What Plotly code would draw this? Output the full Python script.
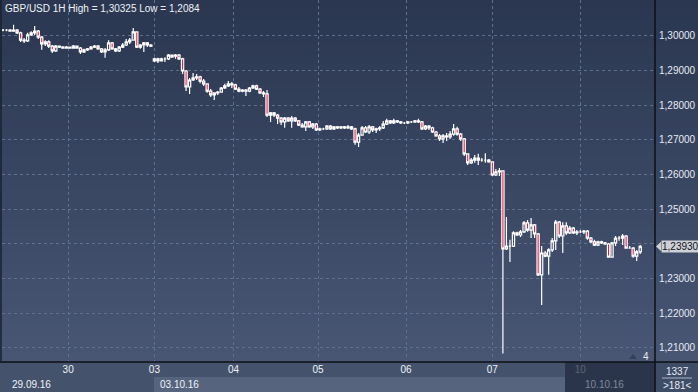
import plotly.graph_objects as go

# ---------------- data ----------------
title_text = "GBP/USD 1H High = 1,30325 Low = 1,2084"

opens = [
    1.3017, 1.3017, 1.3017, 1.3014, 1.3017, 1.3009, 1.2988, 1.2986, 1.3003, 1.3009,
    1.3014, 1.2997, 1.2977, 1.2983, 1.2971, 1.2957, 1.2971, 1.2968, 1.2965, 1.2968,
    1.2965, 1.2971, 1.2965, 1.2954, 1.2960, 1.2963, 1.2968, 1.2971, 1.2963, 1.2954,
    1.2960, 1.2980, 1.2963, 1.2957, 1.2968, 1.2974, 1.2983, 1.2988, 1.3012, 1.2968,
    1.2974, 1.2980, 1.2974, 1.2928, 1.2934, 1.2928, 1.2934, 1.2934, 1.2945, 1.2942,
    1.2945, 1.2934, 1.2899, 1.2853, 1.2873, 1.2879, 1.2882, 1.2870, 1.2862, 1.2841,
    1.2830, 1.2836, 1.2838, 1.2850, 1.2856, 1.2862, 1.2859, 1.2847, 1.2841, 1.2844,
    1.2841, 1.2850, 1.2856, 1.2847, 1.2836, 1.2833, 1.2772, 1.2778, 1.2772, 1.2763,
    1.2752, 1.2763, 1.2755, 1.2763, 1.2755, 1.2743, 1.2738, 1.2752, 1.2738, 1.2746,
    1.2729, 1.2732, 1.2732, 1.2740, 1.2732, 1.2738, 1.2735, 1.2738, 1.2735, 1.2738,
    1.2732, 1.2694, 1.2714, 1.2735, 1.2723, 1.2738, 1.2729, 1.2732, 1.2735, 1.2746,
    1.2755, 1.2749, 1.2755, 1.2752, 1.2749, 1.2749, 1.2752, 1.2752, 1.2755, 1.2752,
    1.2732, 1.2740, 1.2735, 1.2723, 1.2712, 1.2703, 1.2712, 1.2709, 1.2717, 1.2732,
    1.2717, 1.2703, 1.2660, 1.2634, 1.2642, 1.2648, 1.2642, 1.2642, 1.2642, 1.2637,
    1.2599, 1.2608, 1.2611, 1.2386, 1.2394, 1.2394, 1.2432, 1.2426, 1.2435, 1.2461,
    1.2440, 1.2455, 1.2429, 1.2311, 1.2374, 1.2365, 1.2383, 1.2409, 1.2463, 1.2423,
    1.2452, 1.2432, 1.2446, 1.2432, 1.2435, 1.2435, 1.2437, 1.2417, 1.2406, 1.2397,
    1.2406, 1.2403, 1.2400, 1.2362, 1.2403, 1.2417, 1.2417, 1.2423, 1.2388, 1.2388,
    1.2365, 1.2377,
]

highs = [
    1.3020, 1.3020, 1.3020, 1.30325, 1.3020, 1.3012, 1.2994, 1.3009, 1.3014, 1.3029,
    1.3017, 1.3000, 1.2988, 1.2988, 1.2974, 1.2974, 1.2971, 1.2971, 1.2971, 1.2968,
    1.2974, 1.2971, 1.2968, 1.2963, 1.2965, 1.2971, 1.2974, 1.2974, 1.2965, 1.2965,
    1.2988, 1.2983, 1.2965, 1.2971, 1.2980, 1.2991, 1.2994, 1.3023, 1.3014, 1.2977,
    1.2983, 1.2983, 1.2977, 1.2937, 1.2937, 1.2937, 1.2939, 1.2948, 1.2945, 1.2948,
    1.2948, 1.2937, 1.2902, 1.2879, 1.2893, 1.2890, 1.2885, 1.2876, 1.2864, 1.2847,
    1.2838, 1.2841, 1.2853, 1.2862, 1.2870, 1.2867, 1.2862, 1.2853, 1.2847, 1.2847,
    1.2853, 1.2859, 1.2859, 1.2850, 1.2841, 1.2844, 1.2781, 1.2781, 1.2775, 1.2766,
    1.2766, 1.2766, 1.2769, 1.2766, 1.2758, 1.2749, 1.2755, 1.2755, 1.2749, 1.2749,
    1.2735, 1.2735, 1.2743, 1.2743, 1.2740, 1.2740, 1.2740, 1.2740, 1.2743, 1.2740,
    1.2735, 1.2720, 1.2740, 1.2740, 1.2743, 1.2740, 1.2735, 1.2740, 1.2755, 1.2761,
    1.2758, 1.2761, 1.2758, 1.2755, 1.2752, 1.2755, 1.2755, 1.2758, 1.2761, 1.2755,
    1.2743, 1.2743, 1.2738, 1.2726, 1.2717, 1.2717, 1.2720, 1.2726, 1.2746, 1.2738,
    1.2720, 1.2706, 1.2662, 1.2648, 1.2657, 1.2660, 1.2648, 1.2662, 1.2645, 1.2639,
    1.2616, 1.2619, 1.2613, 1.2478, 1.2412, 1.2437, 1.2435, 1.2440, 1.2466, 1.2469,
    1.2475, 1.2458, 1.2432, 1.2394, 1.2380, 1.2388, 1.2417, 1.2469, 1.2466, 1.2463,
    1.2463, 1.2452, 1.2449, 1.2440, 1.2440, 1.2440, 1.2440, 1.2420, 1.2412, 1.2409,
    1.2409, 1.2406, 1.2403, 1.2406, 1.2423, 1.2423, 1.2429, 1.2426, 1.2394, 1.2391,
    1.2383, 1.2397,
]

lows = [
    1.3014, 1.3014, 1.3012, 1.3012, 1.3006, 1.2983, 1.2980, 1.2983, 1.3000, 1.3003,
    1.2991, 1.2960, 1.2971, 1.2965, 1.2951, 1.2954, 1.2965, 1.2963, 1.2963, 1.2963,
    1.2965, 1.2963, 1.2948, 1.2951, 1.2957, 1.2960, 1.2965, 1.2960, 1.2951, 1.2937,
    1.2957, 1.2960, 1.2954, 1.2954, 1.2965, 1.2971, 1.2977, 1.2986, 1.2965, 1.2963,
    1.2954, 1.2968, 1.2968, 1.2925, 1.2922, 1.2928, 1.2925, 1.2931, 1.2937, 1.2934,
    1.2931, 1.2890, 1.2841, 1.2833, 1.2870, 1.2873, 1.2864, 1.2856, 1.2836, 1.2824,
    1.2815, 1.2830, 1.2836, 1.2847, 1.2853, 1.2850, 1.2844, 1.2838, 1.2838, 1.2827,
    1.2838, 1.2847, 1.2844, 1.2833, 1.2824, 1.2766, 1.2752, 1.2766, 1.2746, 1.2743,
    1.2735, 1.2752, 1.2735, 1.2752, 1.2740, 1.2735, 1.2726, 1.2735, 1.2732, 1.2726,
    1.2726, 1.2729, 1.2729, 1.2729, 1.2729, 1.2732, 1.2732, 1.2732, 1.2732, 1.2729,
    1.2686, 1.2680, 1.2712, 1.2720, 1.2717, 1.2723, 1.2720, 1.2726, 1.2732, 1.2743,
    1.2746, 1.2746, 1.2749, 1.2746, 1.2746, 1.2746, 1.2749, 1.2749, 1.2749, 1.2729,
    1.2729, 1.2729, 1.2720, 1.2709, 1.2697, 1.2691, 1.2697, 1.2703, 1.2712, 1.2712,
    1.2697, 1.2654, 1.2628, 1.2631, 1.2634, 1.2628, 1.2637, 1.2634, 1.2634, 1.2596,
    1.2596, 1.2596, 1.2084, 1.2383, 1.2348, 1.2391, 1.2423, 1.2420, 1.2432, 1.2435,
    1.2417, 1.2417, 1.2308, 1.2224, 1.2362, 1.2311, 1.2377, 1.2383, 1.2417, 1.2374,
    1.2426, 1.2429, 1.2429, 1.2426, 1.2432, 1.2429, 1.2412, 1.2403, 1.2394, 1.2394,
    1.2400, 1.2397, 1.2360, 1.2360, 1.2394, 1.2409, 1.2397, 1.2386, 1.2386, 1.2360,
    1.2351, 1.2371,
]

closes = [
    1.3017, 1.3017, 1.3014, 1.3017, 1.3009, 1.2988, 1.2986, 1.3003, 1.3009, 1.3014,
    1.2997, 1.2977, 1.2983, 1.2971, 1.2957, 1.2971, 1.2968, 1.2965, 1.2968, 1.2965,
    1.2971, 1.2965, 1.2954, 1.2960, 1.2963, 1.2968, 1.2971, 1.2963, 1.2954, 1.2960,
    1.2980, 1.2963, 1.2957, 1.2968, 1.2974, 1.2983, 1.2988, 1.3012, 1.2968, 1.2974,
    1.2980, 1.2974, 1.2971, 1.2934, 1.2928, 1.2934, 1.2934, 1.2945, 1.2939, 1.2945,
    1.2934, 1.2899, 1.2853, 1.2873, 1.2879, 1.2882, 1.2870, 1.2862, 1.2841, 1.2830,
    1.2836, 1.2838, 1.2850, 1.2856, 1.2862, 1.2859, 1.2847, 1.2841, 1.2844, 1.2841,
    1.2850, 1.2856, 1.2847, 1.2836, 1.2833, 1.2772, 1.2778, 1.2772, 1.2763, 1.2752,
    1.2763, 1.2755, 1.2763, 1.2755, 1.2743, 1.2738, 1.2752, 1.2738, 1.2746, 1.2729,
    1.2732, 1.2732, 1.2740, 1.2732, 1.2738, 1.2735, 1.2738, 1.2735, 1.2738, 1.2732,
    1.2694, 1.2714, 1.2735, 1.2723, 1.2738, 1.2729, 1.2732, 1.2735, 1.2746, 1.2755,
    1.2749, 1.2755, 1.2752, 1.2749, 1.2749, 1.2752, 1.2752, 1.2755, 1.2752, 1.2732,
    1.2740, 1.2735, 1.2723, 1.2712, 1.2703, 1.2712, 1.2709, 1.2717, 1.2732, 1.2717,
    1.2703, 1.2660, 1.2634, 1.2642, 1.2648, 1.2642, 1.2642, 1.2642, 1.2637, 1.2599,
    1.2608, 1.2611, 1.2386, 1.2394, 1.2394, 1.2432, 1.2426, 1.2435, 1.2461, 1.2440,
    1.2455, 1.2429, 1.2311, 1.2374, 1.2365, 1.2383, 1.2409, 1.2463, 1.2423, 1.2452,
    1.2432, 1.2446, 1.2432, 1.2435, 1.2435, 1.2437, 1.2417, 1.2406, 1.2397, 1.2406,
    1.2403, 1.2400, 1.2362, 1.2403, 1.2417, 1.2417, 1.2423, 1.2388, 1.2388, 1.2365,
    1.2377, 1.2393,
]

day_labels = ["30", "03", "04", "05", "06", "07", "10"]
day_starts = [18.5, 43, 65.5, 89.5, 114.5, 139, 164]
date_labels = ["29.09.16", "03.10.16", "10.10.16"]
price_ticks = [1.21, 1.22, 1.23, 1.24, 1.25, 1.26, 1.27, 1.28, 1.29, 1.30]
price_tick_text = ["1,21000", "1,22000", "1,23000", "", "1,25000", "1,26000",
                   "1,27000", "1,28000", "1,29000", "1,30000"]
last_price = 1.2393
last_price_text = "1,23930"
bar_total_text = "1337"
visible_bars_text = ">181<"
corner_count_text = "4"

# ---------------- layout geometry ----------------
W, H = 698, 392
ML, MR, MT, MB = 2, 43, 0, 30
PW, PH = W - ML - MR, H - MT - MB
Y0, Y1 = 1.20596, 1.31038


def px(xp):
    return (xp - ML) / PW


def py(yp):
    return (MT + PH - yp) / PH


FONT = "Liberation Sans"
idx = list(range(len(closes)))

fig = go.Figure()
fig.add_trace(go.Candlestick(
    x=idx, open=opens, high=highs, low=lows, close=closes,
    increasing=dict(line=dict(color="#ffffff", width=1.2), fillcolor="rgba(0,0,0,0)"),
    decreasing=dict(line=dict(color="#ffffff", width=1.2), fillcolor="#e8103c"),
    whiskerwidth=0, hoverinfo="skip", showlegend=False,
))

shapes = []
# vertical gradient background (plot + right panel)
top_c = (43, 55, 80)
bot_c = (72, 86, 116)
N = 40
for k in range(N):
    t = k / (N - 1)
    c = tuple(int(round(top_c[j] + (bot_c[j] - top_c[j]) * t)) for j in range(3))
    y0p = PH * k / N
    y1p = PH * (k + 1) / N + 0.6
    shapes.append(dict(type="rect", xref="paper", yref="paper",
                       x0=px(0), x1=px(W), y0=py(y1p), y1=py(y0p),
                       fillcolor="rgb(%d,%d,%d)" % c, line=dict(width=0), layer="below"))
# bottom date strip
shapes.append(dict(type="rect", xref="paper", yref="paper", x0=px(0), x1=px(W),
                   y0=py(H), y1=py(362), fillcolor="#44526c", line=dict(width=0), layer="below"))
shapes.append(dict(type="rect", xref="paper", yref="paper", x0=px(154), x1=px(565),
                   y0=py(H), y1=py(377), fillcolor="#56647e", line=dict(width=0), layer="below"))
shapes.append(dict(type="rect", xref="paper", yref="paper", x0=px(655), x1=px(W),
                   y0=py(H), y1=py(362), fillcolor="#3f4c66", line=dict(width=0), layer="below"))
# dark overlay on the last (current) day in date strip
shapes.append(dict(type="rect", xref="paper", yref="paper", x0=px(565), x1=px(655),
                   y0=py(H), y1=py(362), fillcolor="rgba(32,42,62,0.72)", line=dict(width=0), layer="above"))
# frame lines
shapes.append(dict(type="line", xref="paper", yref="paper", x0=px(0), x1=px(W),
                   y0=py(362), y1=py(362), line=dict(color="#0c0f16", width=1.5), layer="above"))
shapes.append(dict(type="line", xref="paper", yref="paper", x0=px(655), x1=px(655),
                   y0=py(0), y1=py(H), line=dict(color="#0c0f16", width=1.5), layer="above"))
shapes.append(dict(type="line", xref="paper", yref="paper", x0=px(1), x1=px(1),
                   y0=py(0), y1=py(362), line=dict(color="#1a2130", width=1.5), layer="above"))
shapes.append(dict(type="line", xref="paper", yref="paper", x0=px(662), x1=px(692),
                   y0=py(378), y1=py(378), line=dict(color="#a9b3c4", width=1), layer="above"))
# small marker next to the corner count
shapes.append(dict(type="path", xref="paper", yref="paper",
                   path="M %f,%f L %f,%f L %f,%f Z" % (px(629), py(359), px(637), py(359), px(633), py(354)),
                   fillcolor="#34415c", line=dict(width=0), layer="above"))
# last price marker arrow
dy = 4.6 / PH * (Y1 - Y0)
shapes.append(dict(type="path", xref="paper", yref="y",
                   path="M %f,%f L %f,%f L %f,%f Z" % (px(656), last_price, px(661), last_price + dy,
                                                      px(661), last_price - dy),
                   fillcolor="#cdd1d8", line=dict(width=0), layer="above"))

annotations = [
    dict(xref="paper", yref="paper", x=px(3), y=py(9), xanchor="left", yanchor="middle",
         text=title_text, showarrow=False, font=dict(family=FONT, size=10, color="#eef2f8")),
    dict(xref="paper", yref="paper", x=px(10), y=py(384), xanchor="left", yanchor="middle",
         text=date_labels[0], showarrow=False, font=dict(family=FONT, size=10, color="#eef2f8")),
    dict(xref="paper", yref="paper", x=px(158), y=py(384), xanchor="left", yanchor="middle",
         text=date_labels[1], showarrow=False, font=dict(family=FONT, size=10, color="#eef2f8")),
    dict(xref="paper", yref="paper", x=px(583), y=py(384), xanchor="left", yanchor="middle",
         text=date_labels[2], showarrow=False, font=dict(family=FONT, size=10, color="#7d889c")),
    dict(xref="paper", yref="paper", x=px(677), y=py(371), xanchor="center", yanchor="middle",
         text=bar_total_text, showarrow=False, font=dict(family=FONT, size=10, color="#e6ebf3")),
    dict(xref="paper", yref="paper", x=px(677), y=py(385), xanchor="center", yanchor="middle",
         text=visible_bars_text, showarrow=False, font=dict(family=FONT, size=10, color="#e6ebf3")),
    dict(xref="paper", yref="paper", x=px(646), y=py(356), xanchor="center", yanchor="middle",
         text=corner_count_text, showarrow=False, font=dict(family=FONT, size=10, color="#e6ebf3")),
    dict(xref="paper", yref="y", x=px(661), y=last_price, xanchor="left", yanchor="middle",
         text=last_price_text, showarrow=False, bgcolor="#cdd1d8", borderpad=0,
         font=dict(family=FONT, size=10, color="#111111")),
]

fig.update_layout(
    width=W, height=H,
    margin=dict(l=ML, r=MR, t=MT, b=MB, pad=0),
    paper_bgcolor="#3a4764",
    plot_bgcolor="rgba(0,0,0,0)",
    boxgap=0.1,
    shapes=shapes,
    annotations=annotations,
    showlegend=False,
    xaxis=dict(
        range=[-0.284, 185.2], rangeslider=dict(visible=False),
        tickmode="array", tickvals=day_starts, ticktext=day_labels,
        showgrid=True, gridcolor="#5f6f8e", gridwidth=1, griddash="3px,3px",
        zeroline=False, showline=False, ticks="",
        tickfont=dict(family=FONT, size=10, color="#eef2f8"),
        fixedrange=True,
    ),
    yaxis=dict(
        side="right", range=[Y0, Y1],
        tickmode="array", tickvals=price_ticks, ticktext=price_tick_text,
        showgrid=True, gridcolor="#5f6f8e", gridwidth=1, griddash="3px,3px",
        zeroline=False, showline=False, ticks="", ticklabelstandoff=3,
        tickfont=dict(family=FONT, size=10, color="#e6ebf3"),
        fixedrange=True,
    ),
)

fig.write_html(
    "out.html",
    config={"displayModeBar": False, "staticPlot": True},
    post_script="document.body.style.margin='0';document.body.style.padding='0';"
                "document.documentElement.style.overflow='hidden';",
)
